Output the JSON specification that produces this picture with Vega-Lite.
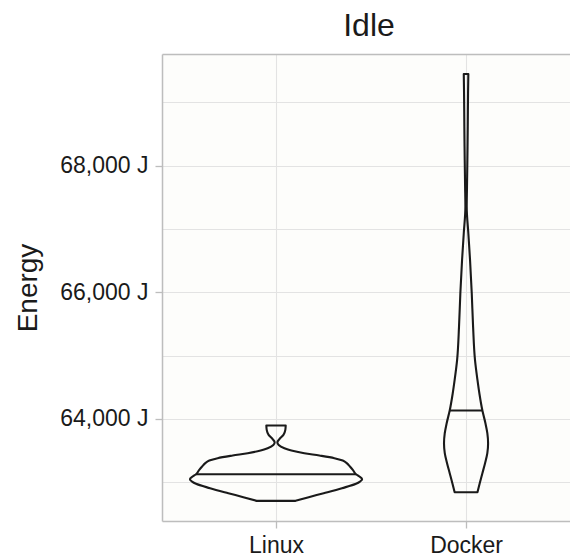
{
  "$schema": "https://vega.github.io/schema/vega-lite/v6.json",
  "autosize": {"type": "none"},
  "padding": {"left": 162, "top": 54, "right": 0, "bottom": 36},
  "width": 408,
  "height": 467,
  "background": "white",
  "title": {"text": "Idle", "fontSize": 32, "font": "Liberation Sans", "fontWeight": "normal", "color": "#1a1a1a", "anchor": "middle", "dx": 3, "offset": -14, "baseline": "alphabetic"},
  "config": {"view": {"stroke": null, "fill": "#FDFDFB"}, "font": "Liberation Sans"},
  "datasets": {
    "outline": [
      {"group": "Linux", "energy": 62707, "lo": 0.898, "hi": 1.102},
      {"group": "Linux", "energy": 62765, "lo": 0.828, "hi": 1.172},
      {"group": "Linux", "energy": 62828, "lo": 0.749, "hi": 1.251},
      {"group": "Linux", "energy": 62907, "lo": 0.653, "hi": 1.347},
      {"group": "Linux", "energy": 62976, "lo": 0.579, "hi": 1.421},
      {"group": "Linux", "energy": 63012, "lo": 0.558, "hi": 1.442},
      {"group": "Linux", "energy": 63049, "lo": 0.547, "hi": 1.453},
      {"group": "Linux", "energy": 63091, "lo": 0.561, "hi": 1.439},
      {"group": "Linux", "energy": 63128, "lo": 0.579, "hi": 1.421},
      {"group": "Linux", "energy": 63197, "lo": 0.596, "hi": 1.404},
      {"group": "Linux", "energy": 63249, "lo": 0.611, "hi": 1.389},
      {"group": "Linux", "energy": 63302, "lo": 0.628, "hi": 1.372},
      {"group": "Linux", "energy": 63344, "lo": 0.649, "hi": 1.351},
      {"group": "Linux", "energy": 63381, "lo": 0.693, "hi": 1.307},
      {"group": "Linux", "energy": 63423, "lo": 0.772, "hi": 1.228},
      {"group": "Linux", "energy": 63460, "lo": 0.851, "hi": 1.149},
      {"group": "Linux", "energy": 63502, "lo": 0.919, "hi": 1.081},
      {"group": "Linux", "energy": 63539, "lo": 0.956, "hi": 1.044},
      {"group": "Linux", "energy": 63591, "lo": 0.986, "hi": 1.014},
      {"group": "Linux", "energy": 63633, "lo": 0.993, "hi": 1.007},
      {"group": "Linux", "energy": 63686, "lo": 0.981, "hi": 1.019},
      {"group": "Linux", "energy": 63749, "lo": 0.961, "hi": 1.039},
      {"group": "Linux", "energy": 63828, "lo": 0.951, "hi": 1.049},
      {"group": "Linux", "energy": 63896, "lo": 0.949, "hi": 1.051},
      {"group": "Docker", "energy": 62844, "lo": 1.940, "hi": 2.060},
      {"group": "Docker", "energy": 62986, "lo": 1.928, "hi": 2.072},
      {"group": "Docker", "energy": 63144, "lo": 1.914, "hi": 2.086},
      {"group": "Docker", "energy": 63302, "lo": 1.900, "hi": 2.100},
      {"group": "Docker", "energy": 63460, "lo": 1.888, "hi": 2.112},
      {"group": "Docker", "energy": 63618, "lo": 1.884, "hi": 2.116},
      {"group": "Docker", "energy": 63775, "lo": 1.888, "hi": 2.112},
      {"group": "Docker", "energy": 63933, "lo": 1.898, "hi": 2.102},
      {"group": "Docker", "energy": 64133, "lo": 1.914, "hi": 2.086},
      {"group": "Docker", "energy": 64407, "lo": 1.930, "hi": 2.070},
      {"group": "Docker", "energy": 64617, "lo": 1.940, "hi": 2.060},
      {"group": "Docker", "energy": 64933, "lo": 1.953, "hi": 2.047},
      {"group": "Docker", "energy": 65459, "lo": 1.963, "hi": 2.037},
      {"group": "Docker", "energy": 65985, "lo": 1.970, "hi": 2.030},
      {"group": "Docker", "energy": 66511, "lo": 1.979, "hi": 2.021},
      {"group": "Docker", "energy": 66933, "lo": 1.988, "hi": 2.012},
      {"group": "Docker", "energy": 67353, "lo": 1.9965, "hi": 2.0035},
      {"group": "Docker", "energy": 67669, "lo": 1.995, "hi": 2.005},
      {"group": "Docker", "energy": 68090, "lo": 1.993, "hi": 2.007},
      {"group": "Docker", "energy": 68616, "lo": 1.991, "hi": 2.009},
      {"group": "Docker", "energy": 69142, "lo": 1.9895, "hi": 2.0105},
      {"group": "Docker", "energy": 69447, "lo": 1.988, "hi": 2.012}
    ],
    "medians": [
      {"group": "Linux", "energy": 63128, "lo": 0.579, "hi": 1.421},
      {"group": "Docker", "energy": 64133, "lo": 1.914, "hi": 2.086}
    ]
  },
  "encoding": {
    "y": {
      "field": "energy", "type": "quantitative",
      "scale": {"domain": [62389, 69764], "nice": false, "zero": false},
      "axis": {
        "values": [63000, 64000, 65000, 66000, 67000, 68000, 69000],
        "labelExpr": "datum.value % 2000 == 0 ? format(datum.value, ',') + ' J' : ''",
        "tickOpacity": {"condition": {"test": "datum.value % 2000 == 0", "value": 1}, "value": 0},
        "tickColor": "#BDBDBD", "tickSize": 7, "tickWidth": 1.3,
        "labelFontSize": 23, "labelColor": "#1a1a1a", "labelPadding": 7, "labelFont": "Liberation Sans", "labelOverlap": false, "labelFlush": false,
        "title": "Energy", "titleFontSize": 28, "titleFontWeight": "normal", "titleColor": "#1a1a1a", "titlePadding": 17, "titleFont": "Liberation Sans",
        "grid": true, "gridColor": "#E3E3E3", "gridWidth": 1.1,
        "domainColor": "#BDBDBD", "domainWidth": 1.5
      }
    }
  },
  "layer": [
    {
      "data": {"name": "outline"},
      "mark": {"type": "area", "orient": "horizontal", "interpolate": "monotone", "fillOpacity": 0, "stroke": "#1a1a1a", "strokeWidth": 2.1, "strokeJoin": "round"},
      "encoding": {
        "x": {
          "field": "lo", "type": "quantitative",
          "scale": {"domain": [0.4, 2.547], "nice": false, "zero": false},
          "axis": {
            "orient": "bottom", "values": [1, 2],
            "labelExpr": "datum.value == 1 ? 'Linux' : 'Docker'",
            "title": null, "grid": true, "gridColor": "#E3E3E3", "gridWidth": 1.1,
            "tickColor": "#BDBDBD", "tickSize": 7, "tickWidth": 1.3,
            "domainColor": "#BDBDBD", "domainWidth": 1.5,
            "labelFontSize": 23, "labelColor": "#1a1a1a", "labelPadding": 6, "labelFont": "Liberation Sans", "labelFlush": false, "labelOverlap": false
          }
        },
        "x2": {"field": "hi"},
        "detail": {"field": "group"}
      }
    },
    {
      "data": {"name": "medians"},
      "mark": {"type": "rule", "stroke": "#1a1a1a", "strokeWidth": 2.1},
      "encoding": {
        "x": {
          "field": "lo", "type": "quantitative",
          "axis": {"orient": "top", "labels": false, "ticks": false, "grid": false, "title": null, "domainColor": "#BDBDBD", "domainWidth": 1.5}
        },
        "x2": {"field": "hi"}
      }
    }
  ],
  "resolve": {"axis": {"x": "independent"}}
}
